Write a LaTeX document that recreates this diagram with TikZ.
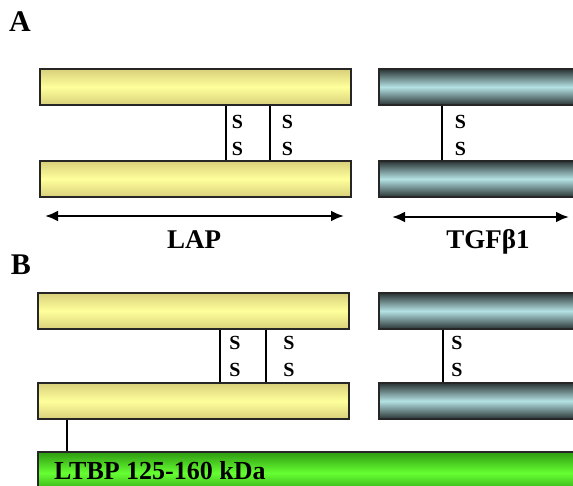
\documentclass[tikz,border=0pt]{standalone}
\usepackage{fontspec}
\setmainfont{Liberation Serif}
\usetikzlibrary{arrows.meta,positioning}
\definecolor{lapedge}{HTML}{D8D07A}
\definecolor{lapmid}{HTML}{FFFF9C}
\definecolor{tgfedge}{HTML}{2A3434}
\definecolor{tgfmid}{HTML}{B4E2E4}
\definecolor{ltbpedge}{HTML}{2E9A10}
\definecolor{ltbpmid}{HTML}{66FF33}
\begin{document}
\begin{tikzpicture}[x=1pt, y=-1pt,
  bar/.style={draw=black!85, line width=1.2pt, minimum height=36pt, inner sep=0pt},
  lapbar/.style={bar, minimum width=311pt, top color=lapedge, bottom color=lapedge, middle color=lapmid},
  tgfbar/.style={bar, minimum width=200pt, top color=tgfedge, bottom color=tgfedge, middle color=tgfmid},
  ltbpbar/.style={bar, minimum width=545pt, minimum height=42pt, top color=ltbpedge, bottom color=ltbpedge, middle color=ltbpmid},
  sslink/.style={line width=1.2pt},
  sslab/.style={font=\fontsize{20}{27}\selectfont\bfseries, align=center, inner sep=0pt},
  span/.style={line width=2.4pt, {Latex[length=13pt,width=11pt]}-{Latex[length=13pt,width=11pt]}},
  panel/.style={font=\fontsize{30}{30}\selectfont\bfseries, inner sep=0pt},
  protlab/.style={font=\fontsize{27}{27}\selectfont\bfseries, inner sep=0pt}]
  \useasboundingbox (0,0) rectangle (573,486);
  \clip (0,0) rectangle (573,486);

  % Panel A
  \node[panel] (pA) at (20,22) {A};
  \node[lapbar] (ya1) at (195.5,87) {};
  \node[lapbar] (ya2) at (195.5,179) {};
  \node[tgfbar] (ta1) at (479,87) {};
  \node[tgfbar] (ta2) at (479,179) {};
  \coordinate (cA1) at (226,0);
  \coordinate (cA2) at (270,0);
  \coordinate (cA3) at (442,0);
  \draw[sslink] (ya1.south -| cA1) -- (ya2.north -| cA1);
  \draw[sslink] (ya1.south -| cA2) -- (ya2.north -| cA2);
  \draw[sslink] (ta1.south -| cA3) -- (ta2.north -| cA3);
  \node[sslab] (sA1) at (237.5,135.5) {S\\S};
  \node[sslab] (sA2) at (287.5,135.5) {S\\S};
  \node[sslab] (sA3) at (460.5,135.5) {S\\S};
  \coordinate (lapL) at (45,216);
  \coordinate (lapR) at (344,216);
  \coordinate (tgfL) at (392,217);
  \coordinate (tgfR) at (569,217);
  \draw[span] (lapL) -- (lapR);
  \draw[span] (tgfL) -- (tgfR);
  \node[protlab] (lap) at (194,240) {LAP};
  \node[protlab] (tgf) at (488,242) {TGFβ1};

  % Panel B
  \node[panel] (pB) at (21,265) {B};
  \node[lapbar] (yb1) at (193.5,311) {};
  \node[lapbar] (yb2) at (193.5,401) {};
  \node[tgfbar] (tb1) at (479,311) {};
  \node[tgfbar] (tb2) at (479,401) {};
  \coordinate (cB1) at (220,0);
  \coordinate (cB2) at (266,0);
  \coordinate (cB3) at (443,0);
  \draw[sslink] (yb1.south -| cB1) -- (yb2.north -| cB1);
  \draw[sslink] (yb1.south -| cB2) -- (yb2.north -| cB2);
  \draw[sslink] (tb1.south -| cB3) -- (tb2.north -| cB3);
  \node[sslab] (sB1) at (235,356.5) {S\\S};
  \node[sslab] (sB2) at (289,356.5) {S\\S};
  \node[sslab] (sB3) at (457,356.5) {S\\S};

  % LTBP
  \node[ltbpbar] (ltbp) at (310.5,473) {};
  \node[font=\fontsize{26}{26}\selectfont\bfseries, anchor=west, inner sep=0pt] (ltbplab) at (54,471) {LTBP 125-160 kDa};
  \coordinate (cL) at (67,0);
  \draw[sslink] (yb2.south -| cL) -- (ltbp.north -| cL);
\end{tikzpicture}
\end{document}
